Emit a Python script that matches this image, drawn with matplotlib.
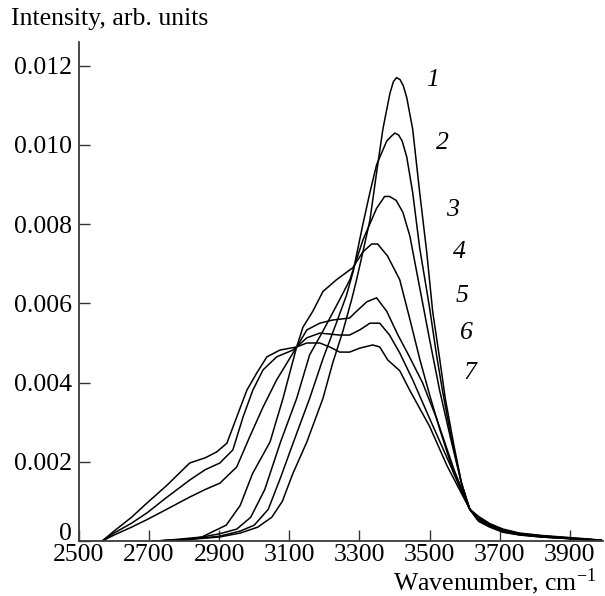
import matplotlib
matplotlib.use("Agg")
import matplotlib.pyplot as plt
import matplotlib.transforms as mtransforms

plt.rcParams['font.family'] = ['Liberation Serif', 'DejaVu Serif']
plt.rcParams['mathtext.fontset'] = 'stix'

# ---- data ----
wn_1 = [2710, 2800, 2900, 2960, 3010, 3050, 3080, 3110, 3150, 3196, 3224, 3253, 3278, 3292, 3310, 3330, 3349, 3367, 3387, 3397, 3406, 3416, 3425, 3435, 3452, 3472, 3492, 3509, 3529, 3545, 3570, 3595, 3615, 3640, 3672, 3710, 3757, 3820, 3880, 3940, 3990]
int_1 = [0, 0.00003, 0.0001, 0.0002, 0.00035, 0.0006, 0.0010, 0.0017, 0.0025, 0.0036, 0.0045, 0.0053, 0.0061, 0.0066, 0.0073, 0.0081, 0.0093, 0.0104, 0.0113, 0.01160, 0.0117, 0.01165, 0.01150, 0.0112, 0.0104, 0.0088, 0.0073, 0.0058, 0.0046, 0.0036, 0.0024, 0.0013, 0.0008, 0.0005, 0.00035, 0.00022, 0.00015, 0.0001, 0.00007, 0.00004, 0.00002]

wn_2 = [2710, 2800, 2900, 2960, 3000, 3040, 3075, 3112, 3158, 3196, 3234, 3263, 3282, 3310, 3330, 3349, 3378, 3391, 3401, 3412, 3422, 3435, 3452, 3472, 3500, 3520, 3537, 3560, 3590, 3615, 3640, 3672, 3710, 3757, 3820, 3880, 3940, 3990]
int_2 = [0, 0.00003, 0.00012, 0.00025, 0.0004, 0.0008, 0.0016, 0.0025, 0.0036, 0.0046, 0.0055, 0.0062, 0.0068, 0.0080, 0.0088, 0.0095, 0.0101, 0.01022, 0.0103, 0.01025, 0.0101, 0.0097, 0.0088, 0.0074, 0.0059, 0.0047, 0.0038, 0.0027, 0.0015, 0.0008, 0.0005, 0.00036, 0.00023, 0.00016, 0.0001, 0.00007, 0.00004, 0.00002]

wn_3 = [2720, 2820, 2900, 2950, 2990, 3030, 3075, 3121, 3158, 3196, 3244, 3273, 3310, 3349, 3372, 3386, 3405, 3424, 3444, 3472, 3500, 3529, 3560, 3590, 3615, 3640, 3672, 3710, 3757, 3820, 3880, 3940, 3990]
int_3 = [0, 0.00005, 0.00018, 0.0003, 0.0006, 0.0013, 0.0025, 0.0036, 0.0047, 0.0053, 0.0061, 0.0066, 0.0076, 0.0084, 0.0087, 0.0087, 0.0086, 0.0083, 0.0077, 0.0064, 0.0051, 0.0038, 0.0026, 0.0015, 0.0008, 0.00052, 0.00037, 0.00024, 0.00016, 0.00011, 0.00007, 0.00004, 0.00002]

wn_4 = [2730, 2850, 2920, 2960, 2995, 3045, 3082, 3121, 3139, 3167, 3196, 3235, 3281, 3310, 3335, 3352, 3380, 3415, 3444, 3472, 3500, 3530, 3570, 3615, 3640, 3672, 3710, 3757, 3820, 3880, 3940, 3990]
int_4 = [0, 0.0001, 0.0004, 0.0009, 0.0017, 0.0025, 0.0036, 0.0049, 0.0054, 0.0058, 0.0063, 0.0066, 0.0069, 0.0073, 0.0075, 0.0075, 0.0072, 0.0066, 0.0056, 0.0046, 0.0037, 0.0028, 0.0017, 0.0008, 0.00055, 0.00038, 0.00025, 0.00017, 0.00011, 0.00008, 0.00004, 0.00002]

wn_5 = [2566, 2600, 2650, 2694, 2750, 2816, 2860, 2902, 2950, 2987, 3025, 3064, 3093, 3121, 3150, 3187, 3224, 3272, 3287, 3321, 3349, 3378, 3410, 3440, 3480, 3520, 3570, 3615, 3640, 3672, 3710, 3757, 3820, 3880, 3940, 3990]
int_5 = [0, 0.00015, 0.00035, 0.00054, 0.0008, 0.00111, 0.0013, 0.00146, 0.00187, 0.00263, 0.00338, 0.00407, 0.00449, 0.0049, 0.00533, 0.0055, 0.00558, 0.00563, 0.00576, 0.00604, 0.00614, 0.0058, 0.0052, 0.0047, 0.0040, 0.0031, 0.0018, 0.0008, 0.00058, 0.0004, 0.00026, 0.00018, 0.00012, 0.00008, 0.00005, 0.00002]

wn_6 = [2566, 2600, 2650, 2694, 2750, 2816, 2860, 2902, 2939, 2968, 2996, 3025, 3064, 3110, 3121, 3150, 3187, 3244, 3272, 3301, 3330, 3358, 3386, 3415, 3452, 3500, 3550, 3615, 3640, 3672, 3710, 3757, 3820, 3880, 3940, 3990]
int_6 = [0, 0.0002, 0.00045, 0.00071, 0.0011, 0.00154, 0.0018, 0.00197, 0.0023, 0.00313, 0.00381, 0.00432, 0.00465, 0.00482, 0.0049, 0.00513, 0.00525, 0.0052, 0.0052, 0.00533, 0.0055, 0.0055, 0.0052, 0.00475, 0.00407, 0.0031, 0.0021, 0.0008, 0.0006, 0.00042, 0.00028, 0.00019, 0.00013, 0.00009, 0.00005, 0.00002]

wn_7 = [2566, 2600, 2650, 2694, 2750, 2816, 2860, 2893, 2922, 2950, 2979, 3007, 3036, 3073, 3121, 3150, 3187, 3215, 3244, 3272, 3301, 3338, 3358, 3381, 3415, 3444, 3500, 3550, 3615, 3640, 3672, 3710, 3757, 3820, 3880, 3940, 3990]
int_7 = [0, 0.00025, 0.0006, 0.00096, 0.0014, 0.00197, 0.0021, 0.00225, 0.00247, 0.00313, 0.00381, 0.00424, 0.00465, 0.00482, 0.0049, 0.005, 0.005, 0.0049, 0.00477, 0.00477, 0.00487, 0.00495, 0.0049, 0.00457, 0.0043, 0.0038, 0.0029, 0.0019, 0.0008, 0.00062, 0.00044, 0.0003, 0.0002, 0.00014, 0.0001, 0.00006, 0.00002]

curve_labels = ['1', '2', '3', '4', '5', '6', '7']
label_x = [3509, 3537, 3566, 3586, 3592, 3606, 3614]
label_y = [0.01164, 0.01005, 0.00836, 0.00730, 0.00619, 0.00525, 0.00424]

x_ticks = [2500, 2700, 2900, 3100, 3300, 3500, 3700, 3900]
y_ticks = [0, 0.002, 0.004, 0.006, 0.008, 0.010, 0.012]
y_tick_labels = ['0', '0.002', '0.004', '0.006', '0.008', '0.010', '0.012']

# ---- figure ----
W, H = 605, 596
fig = plt.figure(figsize=(W / 100, H / 100), dpi=100)
ax = fig.add_axes([79 / W, 1 - 541 / H, (603 - 79) / W, (541 - 42) / H])

series = [(wn_1, int_1), (wn_2, int_2), (wn_3, int_3), (wn_4, int_4),
          (wn_5, int_5), (wn_6, int_6), (wn_7, int_7)]
for wn, it in series:
    ax.plot(wn, it, color='black', lw=1.1, solid_joinstyle='round')

for lab, lx, ly in zip(curve_labels, label_x, label_y):
    ax.text(lx, ly, lab, fontsize=18.5, fontstyle='italic', ha='center', va='center')

ax.set_xlim(2500, 3995)
ax.set_ylim(0, 0.0126)
ax.set_xticks(x_ticks)
ax.set_xticklabels([str(t) for t in x_ticks])
ax.set_yticks(y_ticks)
ax.set_yticklabels(y_tick_labels)
ax.tick_params(direction='in', length=8, width=1.0, color='#333333',
               labelsize=18.5, pad=5)
ax.tick_params(axis='x', pad=2)

# lift the "0" label a little so it sits just above "2500", as in the reference
zero_lbl = ax.get_yticklabels()[0]
zero_lbl.set_transform(zero_lbl.get_transform() +
                       mtransforms.ScaledTranslation(0, 9 / 100, fig.dpi_scale_trans))

for side in ['top', 'right']:
    ax.spines[side].set_visible(False)
for side in ['left', 'bottom']:
    ax.spines[side].set_color('#3a3a3a')
    ax.spines[side].set_linewidth(1.3)

fig.text(11 / W, 1 - 8 / H, 'Intensity, arb. units', fontsize=18.5, ha='left', va='top')
fig.text(597 / W, 1 - 590 / H, 'Wavenumber, cm$^{\\mathregular{-1}}$', fontsize=18.5,
         ha='right', va='baseline')

fig.savefig('out.png', dpi=100)
